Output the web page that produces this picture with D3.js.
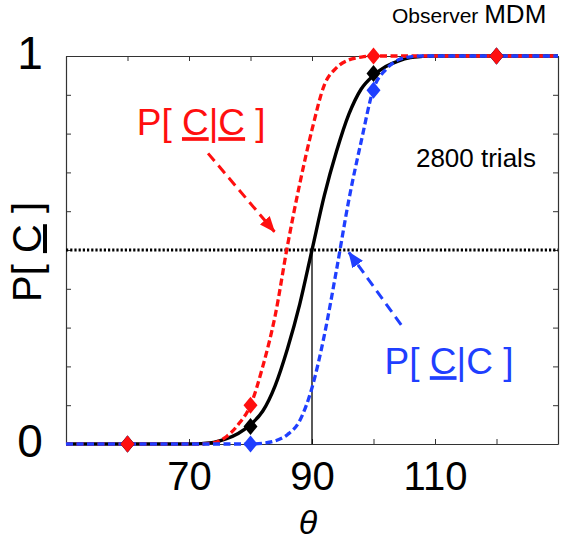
<!DOCTYPE html>
<html><head><meta charset="utf-8">
<script src="https://cdn.jsdelivr.net/npm/d3@7"></script>
<style>body{margin:0;background:#fff} svg{display:block} text{font-family:"Liberation Sans",Arial,sans-serif}</style>
</head><body><svg id="c" width="564" height="543"></svg>
<script>
// ---- data ----
const thetaGrid = [50,60,70,72,74,76,78,80,82,84,86,88,90,92,94,96,98,100,102,104,106,108,110,120,130];
const pRed   = [0,0,0,0,0.003,0.018,0.05,0.10,0.20,0.33,0.51,0.67,0.81,0.925,0.97,0.99,0.997,1,1,1,1,1,1,1,1];
const pBlack = [0,0,0,0.001,0.004,0.013,0.027,0.05,0.085,0.15,0.245,0.36,0.50,0.64,0.755,0.85,0.915,0.95,0.973,0.987,0.996,0.999,1,1,1];
const pBlue  = [0,0,0,0,0,0,0,0,0.002,0.008,0.024,0.06,0.145,0.28,0.45,0.63,0.78,0.915,0.965,0.99,0.998,1,1,1,1];
const markerTheta = [60,80,100,120];
const mRed   = [0,0.10,1,1];
const mBlack = [0,0.045,0.955,1];
const mBlue  = [0,0,0.912,1];
const xTicks = [50,60,70,80,90,100,110,120,130];
const xTickLabels = [70,90,110];
const yTicks = [0,0.1,0.2,0.3,0.4,0.5,0.6,0.7,0.8,0.9,1];
const yTickLabels = [0,1];
const criterion = 0.5, pse = 90;
const redLabelPos = [61.5,0.796], blueLabelPos = [101.8,0.18], trialsPos = [106.9,0.713];
const redArrow = [[73.1,0.749],[83.9,0.547]];
const blueArrow = [[104.5,0.307],[96.0,0.494]];
const RED = "#ff0f0f", BLUE = "#1f3fff", BLACK = "#000";

// ---- layout ----
const svg = d3.select("#c");
const W = 564, H = 543;
const m = {l:66, t:56, r:6, b:99};
const x = d3.scaleLinear().domain([50,130]).range([m.l, W-m.r]);
const y = d3.scaleLinear().domain([0,1]).range([H-m.b, m.t]);

// box axes with inward ticks
const fmtX = d => xTickLabels.includes(d) ? d : "";
const fmtY = d => yTickLabels.includes(d) ? d3.format("d")(d) : "";
const gB = svg.append("g").attr("transform",`translate(0,${y(0)})`)
  .call(d3.axisBottom(x).tickValues(xTicks).tickSize(-5).tickSizeOuter(0).tickPadding(18).tickFormat(fmtX));
gB.selectAll("text").attr("font-size",40).attr("fill","#000").attr("font-family","Liberation Sans, Arial, sans-serif");
const gT = svg.append("g").attr("transform",`translate(0,${y(1)})`)
  .call(d3.axisTop(x).tickValues(xTicks).tickSize(-5).tickSizeOuter(0).tickFormat(""));
const gL = svg.append("g").attr("transform",`translate(${x(50)},0)`)
  .call(d3.axisLeft(y).tickValues(yTicks).tickSize(-5).tickSizeOuter(0).tickPadding(0).tickFormat(fmtY));
gL.selectAll("text").attr("font-size",46).attr("fill","#000").attr("text-anchor","middle")
  .attr("x",-36).attr("dy","0.28em").attr("font-family","Liberation Sans, Arial, sans-serif");
const gR = svg.append("g").attr("transform",`translate(${x(130)},0)`)
  .call(d3.axisRight(y).tickValues(yTicks).tickSize(-5).tickSizeOuter(0).tickFormat(""));
svg.selectAll(".domain").attr("stroke","#333").attr("stroke-width",1.2);
svg.selectAll(".tick line").attr("stroke","#333").attr("stroke-width",1);

// criterion lines
svg.append("line").attr("x1",x(50)).attr("x2",x(130)).attr("y1",y(criterion)).attr("y2",y(criterion))
  .attr("stroke","#000").attr("stroke-width",3).attr("stroke-dasharray","2.2,2");
svg.append("line").attr("x1",x(pse)).attr("x2",x(pse)).attr("y1",y(criterion)).attr("y2",y(0))
  .attr("stroke","#000").attr("stroke-width",1.3);

// curves
const line = d3.line().x(d=>x(d[0])).y(d=>y(d[1])).curve(d3.curveMonotoneX);
const series = [
  {p:pBlack, c:BLACK, dash:null, w:3.4},
  {p:pRed, c:RED, dash:"7,3.5", w:3.3},
  {p:pBlue, c:BLUE, dash:"7,3.5", w:3.3}
];
series.forEach(s=>{
  svg.append("path").datum(thetaGrid.map((t,i)=>[t,s.p[i]]))
    .attr("d",line).attr("fill","none").attr("stroke",s.c).attr("stroke-width",s.w)
    .attr("stroke-dasharray",s.dash);
});

// markers
const diamond = "M0,-8.5L7,0L0,8.5L-7,0Z";
[[mBlue,BLUE],[mBlack,BLACK],[mRed,RED]].forEach(([arr,c])=>{
  svg.selectAll(null).data(markerTheta.map((t,i)=>[t,arr[i]])).enter().append("path")
    .attr("d",diamond).attr("fill",c)
    .attr("transform",d=>`translate(${x(d[0])},${y(d[1])})`);
});

// arrows
const defs = svg.append("defs");
[["ar",RED],["ab",BLUE]].forEach(([id,c])=>{
  defs.append("marker").attr("id",id).attr("markerUnits","userSpaceOnUse")
    .attr("viewBox","0 -7 16 14").attr("refX",15).attr("refY",0)
    .attr("markerWidth",16).attr("markerHeight",14).attr("orient","auto")
    .append("path").attr("d","M0,-6.5L16,0L0,6.5Z").attr("fill",c);
});
[[redArrow,RED,"ar"],[blueArrow,BLUE,"ab"]].forEach(([a,c,id])=>{
  svg.append("line").attr("x1",x(a[0][0])).attr("y1",y(a[0][1]))
    .attr("x2",x(a[1][0])).attr("y2",y(a[1][1]))
    .attr("stroke",c).attr("stroke-width",3).attr("stroke-dasharray","10,6")
    .attr("marker-end",`url(#${id})`);
});

// labels
function plabel(pos, c, underlines){
  const t = svg.append("text").attr("x",x(pos[0])).attr("y",y(pos[1]))
    .attr("fill",c).attr("font-size",37).attr("xml:space","preserve");
  const parts = ["P[ ","C","|","C"," ]"];
  parts.forEach((p,i)=>{
    const ts = t.append("tspan").text(p);
    if ((i===1 && underlines[0]) || (i===3 && underlines[1])) ts.attr("text-decoration","underline");
  });
}
plabel(redLabelPos, RED, [true,true]);
plabel(blueLabelPos, BLUE, [true,false]);

svg.append("text").attr("x",x(trialsPos[0])).attr("y",y(trialsPos[1]))
  .attr("font-size",26).attr("fill","#000").text("2800 trials");

const obs = svg.append("text").attr("x",392).attr("y",23).attr("fill","#000");
obs.append("tspan").attr("font-size",21).text("Observer ");
obs.append("tspan").attr("font-size",26).text("MDM");

// axis titles
const yl = svg.append("text").attr("transform","translate(41,252) rotate(-90)")
  .attr("text-anchor","middle").attr("font-size",40).attr("fill","#000").attr("xml:space","preserve");
yl.append("tspan").text("P[ ");
yl.append("tspan").attr("text-decoration","underline").text("C");
yl.append("tspan").text(" ]");

svg.append("text").attr("x",x(90)-4).attr("y",534).attr("text-anchor","middle")
  .attr("font-size",34).attr("font-style","italic").attr("fill","#000").text("θ");
</script></body></html>
